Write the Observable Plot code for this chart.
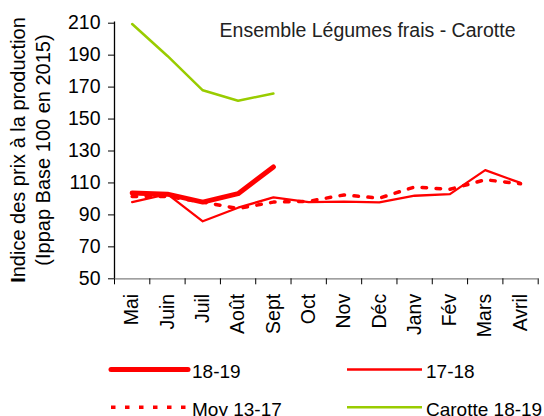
<!DOCTYPE html>
<html><head><meta charset="utf-8">
<script src="https://cdn.jsdelivr.net/npm/d3@7"></script>
<script src="https://cdn.jsdelivr.net/npm/@observablehq/plot@0.6"></script>
<style>
body{margin:0;background:#fff;font-family:"Liberation Sans",Arial,sans-serif;}
#chart{position:relative;width:544px;height:416px;overflow:hidden;background:#fff;}
#legend{position:absolute;left:0;top:345px;}
</style></head><body><div id="chart"></div>
<script>
const months = ["Mai","Juin","Juil","Août","Sept","Oct","Nov","Déc","Janv","Fév","Mars","Avril"];
const s1819 = [103.7, 103, 98, 103.3, 120];
const s1718 = [98, 103, 86, 94.5, 101, 98, 98.3, 97.8, 102, 103, 118, 110];
const moy1317 = [101.5, 101.5, 98, 94, 98, 98.5, 102.5, 100.5, 107.5, 106, 112, 109.5];
const carotte1819 = [209.5, 189.5, 168, 161.5, 166];
const yTicks = [50, 70, 90, 110, 130, 150, 170, 190, 210];
const title = "Ensemble Légumes frais - Carotte";
const yLabel1 = "Indice des prix à la production";
const yLabel2 = "(Ippap Base 100 en 2015)";
const seriesNames = ["18-19", "17-18", "Moy 13-17", "Carotte 18-19"];

const red = "#ff0000", green = "#99cc00";
const rows = vals => vals.map((v, i) => ({m: i + 0.5, v}));
const font = '"Liberation Sans", Arial, sans-serif';

const plot = Plot.plot({
  width: 544, height: 345,
  marginLeft: 114, marginRight: 6.3, marginTop: 22.7, marginBottom: 66.7,
  style: {fontFamily: font, fontSize: "19.5px", color: "#000", background: "#fff"},
  x: {type: "linear", domain: [0, months.length]},
  y: {domain: [50, 210]},
  marks: [
    Plot.ruleY([50], {x1: 0, x2: months.length, stroke: "#808080", strokeWidth: 1.3}),
    Plot.ruleX([0], {y1: 50, y2: 210.7, stroke: "#000", strokeWidth: 1.3}),
    Plot.axisY({ticks: yTicks, tickSize: 6, tickPadding: 8, label: null, tickFormat: d => d}),
    Plot.axisX({ticks: d3.range(months.length + 1), tickSize: 6, tickFormat: () => "", label: null}),
    Plot.axisX({ticks: months.map((_, i) => i + 0.5), tickFormat: d => months[Math.floor(d)],
      tickSize: 0, tickPadding: 15, tickRotate: -90, label: null}),
    Plot.line(rows(moy1317), {x: "m", y: "v", stroke: red, strokeWidth: 3.5, strokeDasharray: "4.5,9.5"}),
    Plot.line(rows(s1718), {x: "m", y: "v", stroke: red, strokeWidth: 2.3}),
    Plot.line(rows(s1819), {x: "m", y: "v", stroke: red, strokeWidth: 5, strokeLinecap: "round"}),
    Plot.line(rows(carotte1819), {x: "m", y: "v", stroke: green, strokeWidth: 2.5}),
    Plot.text([title], {frameAnchor: "top-right", lineAnchor: "top", textAnchor: "end", dx: -22.7, dy: 0, fontSize: 19.5, fill: "#222"})
  ]
});

const chart = document.getElementById("chart");
chart.appendChild(plot);

// y-axis title (two lines, first letter bold)
const svg = d3.select(plot);
const t1 = svg.append("text").attr("transform", "translate(25,150) rotate(-90)")
  .attr("text-anchor", "middle").attr("font-size", 20).attr("font-family", font).attr("fill", "#000");
t1.append("tspan").attr("font-weight", "bold").text(yLabel1[0]);
t1.append("tspan").text(yLabel1.slice(1));
svg.append("text").attr("transform", "translate(49.5,150) rotate(-90)")
  .attr("text-anchor", "middle").attr("font-size", 20).attr("font-family", font).attr("fill", "#000")
  .text(yLabel2);

// legend below
const legendItems = [
  {name: seriesNames[0], color: red, w: 5, dash: null, x: 111, y: 24.5},
  {name: seriesNames[1], color: red, w: 2.3, dash: null, x: 347, y: 24.5},
  {name: seriesNames[2], color: red, w: 3.5, dash: "4.5,9.5", x: 111, y: 62.3},
  {name: seriesNames[3], color: green, w: 2.5, dash: null, x: 347, y: 62.3}
];
const leg = d3.select(chart).append("svg").attr("id", "legend").attr("width", 544).attr("height", 71);
for (const it of legendItems) {
  const len = it.x < 200 ? 77 : 75;
  leg.append("line").attr("x1", it.x).attr("x2", it.x + len).attr("y1", it.y).attr("y2", it.y)
    .attr("stroke", it.color).attr("stroke-width", it.w)
    .attr("stroke-dasharray", it.dash).attr("stroke-linecap", it.dash ? "butt" : (it.w > 4 ? "round" : "butt"));
  leg.append("text").attr("x", it.x + len + 4).attr("y", it.y + 8.8)
    .attr("font-size", 19).attr("font-family", font).attr("fill", "#000").text(it.name);
}
</script></body></html>
